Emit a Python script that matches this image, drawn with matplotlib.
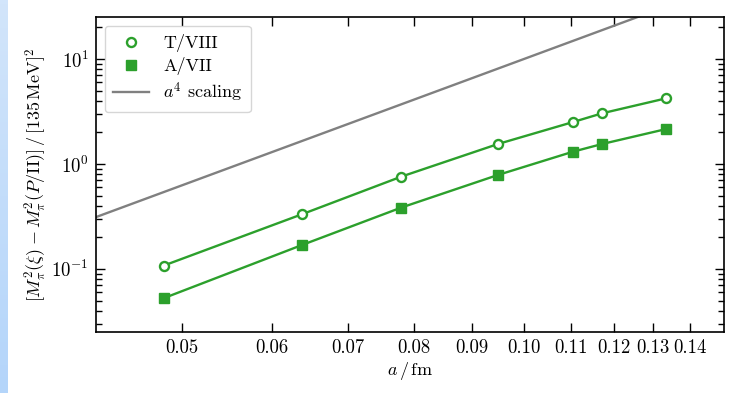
import numpy as np
import matplotlib
matplotlib.use("Agg")
from matplotlib import pyplot as plt
from matplotlib.colors import LinearSegmentedColormap
from matplotlib.ticker import FixedLocator, NullLocator, FixedFormatter

plt.rcParams["font.family"] = "serif"
plt.rcParams["font.serif"] = ["cmr10", "DejaVu Serif"]
plt.rcParams["mathtext.fontset"] = "cm"
plt.rcParams["axes.formatter.use_mathtext"] = True

# lattice spacings and mass splittings
a_fm = [0.0482, 0.0638, 0.0780, 0.0949, 0.1105, 0.1172, 0.1334]
split_t8 = [0.1075, 0.332, 0.757, 1.55, 2.51, 3.04, 4.22]
split_a7 = [0.0526, 0.169, 0.384, 0.786, 1.31, 1.55, 2.15]

# a^4 reference line, two end points
scaling_a = [0.042, 0.15]
scaling_y = [0.311, 50.6]

xticks = [0.05, 0.06, 0.07, 0.08, 0.09, 0.10, 0.11, 0.12, 0.13, 0.14]
xtick_labels = ["0.05", "0.06", "0.07", "0.08", "0.09", "0.10", "0.11", "0.12", "0.13", "0.14"]

green = "#2ca02c"

fig = plt.figure(figsize=(7.42, 3.93), dpi=100)

# light blue strip on the left edge
strip = fig.add_axes([0, 0, 8 / 742, 1])
cmap = LinearSegmentedColormap.from_list("strip", ["#d2e5fb", "#b4d5fa"])
strip.imshow(np.linspace(0, 1, 100).reshape(-1, 1), aspect="auto", cmap=cmap)
strip.axis("off")

ax = fig.add_axes([0.129, 0.1545, 0.8467, 0.803])

# lines first, markers separately so the legend shows markers only
ax.plot(a_fm, split_t8, "-", color=green, lw=1.7, zorder=2)
ax.plot(a_fm, split_a7, "-", color=green, lw=1.7, zorder=2)
ax.plot(a_fm, split_t8, "o", ms=6.5, mfc="white", mec=green, mew=1.7,
        label="T/VIII", zorder=3)
ax.plot(a_fm, split_a7, "s", ms=7, mfc=green, mec=green, label="A/VII", zorder=3)
ax.plot(scaling_a, scaling_y, "-", color="grey", lw=1.7, label="$a^4$ scaling")

ax.set_xscale("log")
ax.set_yscale("log")
ax.set_xlim(0.042, 0.15)
ax.set_ylim(0.0249, 25.3)

ax.xaxis.set_major_locator(FixedLocator(xticks))
ax.xaxis.set_major_formatter(FixedFormatter(xtick_labels))
ax.xaxis.set_minor_locator(NullLocator())

ax.tick_params(which="both", direction="in", top=True, right=True, labelsize=13.5)
ax.tick_params(which="major", length=6.5, width=1.0, pad=5)
ax.tick_params(which="minor", length=4, width=1.0)
for s in ax.spines.values():
    s.set_linewidth(1.2)

ax.set_xlabel(r"$a\,/\,\mathrm{fm}$", fontsize=13, labelpad=2)
ax.set_ylabel(r"$[M_\pi^2(\xi) - M_\pi^2(P/\mathrm{II})]\,/\,[135\,\mathrm{MeV}]^2$",
              fontsize=13, labelpad=2)

leg = ax.legend(loc="upper left", fontsize=13, handlelength=2.0, borderpad=0.45,
                labelspacing=0.3, handletextpad=0.8, fancybox=True)
leg.get_frame().set_edgecolor("#cccccc")

fig.savefig("out.png", dpi=100)
